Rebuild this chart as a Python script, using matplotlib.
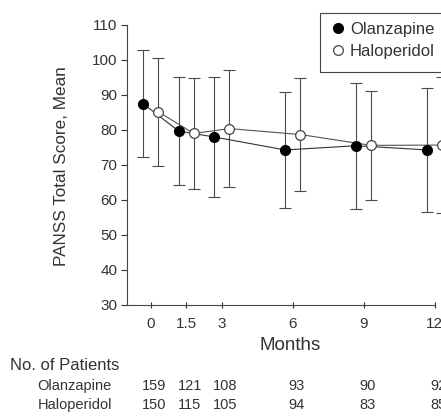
import matplotlib
matplotlib.use("Agg")
import matplotlib.pyplot as plt
import matplotlib.transforms as mtransforms
from matplotlib.patches import Rectangle

plt.rcParams['font.family'] = ['Liberation Sans', 'DejaVu Sans']

# Data
months = [0, 1.5, 3, 6, 9, 12]
olz_mean = [87.5, 79.7, 78.0, 74.3, 75.5, 74.3]
olz_sd = [15.3, 15.4, 17.2, 16.5, 18.0, 17.6]
hal_mean = [85.2, 79.0, 80.4, 78.7, 75.6, 75.7]
hal_sd = [15.5, 15.8, 16.8, 16.1, 15.6, 19.5]
olz_n = [159, 121, 108, 93, 90, 92]
hal_n = [150, 115, 105, 94, 83, 85]
tick_labels = ['0', '1.5', '3', '6', '9', '12']

shift = 0.32
olz_x = [m - shift for m in months]
hal_x = [m + shift for m in months]

txt = '#333333'
fig = plt.figure(figsize=(4.41, 4.17), dpi=100)
ax = fig.add_axes([0.288, 0.2686, 0.698, 0.6715])

ecol = '#4a4a4a'
ax.errorbar(hal_x, hal_mean, yerr=hal_sd, fmt='none', ecolor=ecol, elinewidth=0.8,
            capsize=4, capthick=0.8, clip_on=False, zorder=2)
ax.errorbar(olz_x, olz_mean, yerr=olz_sd, fmt='none', ecolor=ecol, elinewidth=0.8,
            capsize=4, capthick=0.8, clip_on=False, zorder=2)
ax.plot(olz_x, olz_mean, '-', color='#333333', lw=0.8, clip_on=False, zorder=3)
ax.plot(hal_x, hal_mean, '-', color='#555555', lw=0.8, clip_on=False, zorder=3)
ax.plot(olz_x, olz_mean, 'o', color='black', ms=7, clip_on=False, zorder=4,
        label='Olanzapine', linestyle='none')
ax.plot(hal_x, hal_mean, 'o', mfc='white', mec='#444444', mew=0.9, ms=7,
        clip_on=False, zorder=4, label='Haloperidol', linestyle='none')

ax.set_xlim(-1.0, 12.0)
ax.set_ylim(30, 110)
ax.set_xticks(months)
ax.set_xticklabels(tick_labels)
ax.set_yticks(range(30, 111, 10))

for s in ['top', 'right']:
    ax.spines[s].set_visible(False)
for s in ['left', 'bottom']:
    ax.spines[s].set_color('#444444')
    ax.spines[s].set_linewidth(0.8)

ax.tick_params(axis='x', direction='inout', length=4, width=0.8, pad=7,
               labelsize=11, colors=txt)
ax.tick_params(axis='y', direction='out', length=4, width=0.8, pad=3,
               labelsize=11, colors=txt)

ax.set_ylabel('PANSS Total Score, Mean', fontsize=12.3, color=txt)
ax.yaxis.set_label_coords(-0.188, 0.496)

# legend, with its box running off the right edge as in the original
leg = ax.legend(loc='upper left', bbox_to_anchor=(330 / 441, 1 - 22 / 417),
                bbox_transform=fig.transFigure, fontsize=12, frameon=False,
                handletextpad=0.2, borderpad=0, labelspacing=0.4,
                handlelength=1.0, borderaxespad=0)
for t in leg.get_texts():
    t.set_color(txt)
fig.patches.append(Rectangle((320 / 441, 1 - 72 / 417), 140 / 441, 59 / 417,
                             transform=fig.transFigure, fill=False,
                             edgecolor='#444444', lw=0.8))

fig.text(290 / 441, 1 - 345 / 417, 'Months', ha='center', va='center',
         fontsize=13.5, color=txt)

# Number of patients table
fig.text(10 / 441, 1 - 366 / 417, 'No. of Patients', ha='left', va='center',
         fontsize=12, color=txt)
row_y = [1 - 386 / 417, 1 - 405 / 417]
fig.text(112 / 441, row_y[0], 'Olanzapine', ha='right', va='center',
         fontsize=10.5, color=txt)
fig.text(112 / 441, row_y[1], 'Haloperidol', ha='right', va='center',
         fontsize=10.5, color=txt)
trans = mtransforms.blended_transform_factory(ax.transData, fig.transFigure)
for m, a, b in zip(months, olz_n, hal_n):
    ax.text(m + 0.15, row_y[0], str(a), transform=trans, ha='center', va='center',
            fontsize=10.5, color=txt, clip_on=False)
    ax.text(m + 0.15, row_y[1], str(b), transform=trans, ha='center', va='center',
            fontsize=10.5, color=txt, clip_on=False)

fig.savefig('out.png', dpi=100)
